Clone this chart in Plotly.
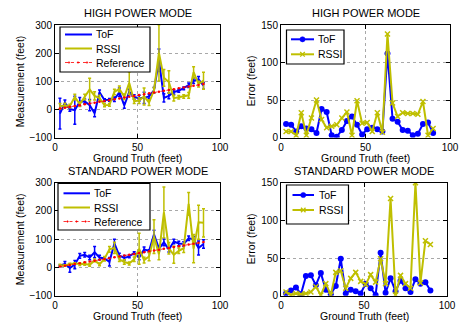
import plotly.graph_objects as go

truth = [3, 6, 9, 12, 15, 18, 21, 24, 27, 30, 33, 36, 39, 42, 45, 48, 51, 54, 57, 60,
         63, 66, 69, 72, 75, 78, 81, 84, 87, 90]

# HIGH POWER MODE - measurements
hp_tof = [-15, 23, 1, -3, 27, 29, 15, -14, 61, 33, 34, 36, 61, 14, 62, 44, 40, 41, 46, 68,
          175, 41, 48, 62, 66, 75, 86, 102, 107, 84]
hp_tof_err = [55, 10, 8, 50, 15, 8, 20, 12, 8, 5, 5, 8, 15, 10, 10, 8, 10, 20, 8, 10,
              40, 15, 10, 8, 5, 5, 8, 10, 10, 12]
hp_rssi = [11, 14, 12, 44, 18, 44, 71, 48, 40, 15, 16, 62, 73, 45, 94, 29, 31, 46, 24, 68,
           201, 112, 97, 40, 43, 46, 50, 132, 90, 102]
hp_rssi_err = [10, 8, 6, 10, 8, 10, 40, 15, 10, 6, 5, 10, 10, 10, 40, 8, 10, 30, 10, 10,
               100, 30, 40, 10, 6, 6, 10, 20, 10, 30]
# HIGH POWER MODE - errors
hp_tof_e = [18, 17, 8, 15, 12, 11, 6, 38, 34, 3, 1, 10, 22, 28, 17, 4, 11, 13, 11, 8,
            112, 25, 21, 10, 9, 3, 5, 18, 20, 6]
hp_rssi_e = [8, 8, 3, 33, 3, 26, 50, 24, 13, 15, 17, 26, 34, 3, 49, 19, 20, 8, 33, 7,
             138, 46, 28, 33, 32, 32, 31, 48, 3, 12]

# STANDARD POWER MODE - measurements
sp_tof = [6, 13, -2, 10, 41, 45, 35, 54, 35, 32, 20, 85, 42, 34, 39, 51, 35, 64, 58, 117,
          67, 89, 63, 92, 85, 83, 103, 100, 69, 83]
sp_tof_err = [3, 8, 15, 15, 8, 8, 8, 20, 8, 5, 15, 15, 8, 8, 5, 5, 8, 8, 5, 15,
              8, 12, 8, 8, 8, 8, 8, 10, 25, 15]
sp_rssi = [8, 7, 12, 14, 12, 13, 9, 25, 11, 31, 64, 69, 29, 19, 14, 29, 66, 26, 39, 109,
           47, 195, 68, 45, 59, 68, 225, 67, 160, 158]
sp_rssi_err = [3, 3, 3, 3, 5, 5, 5, 5, 5, 8, 10, 20, 8, 8, 5, 8, 55, 10, 15, 60,
               20, 90, 20, 30, 10, 15, 40, 50, 60, 50]
# STANDARD POWER MODE - errors
sp_tof_e = [3, 7, 11, 2, 26, 27, 14, 30, 8, 2, 13, 49, 3, 8, 6, 3, 16, 10, 1, 57,
            4, 23, 6, 20, 10, 5, 22, 16, 18, 7]
sp_rssi_e = [5, 1, 3, 2, 3, 5, 12, 1, 16, 1, 31, 33, 10, 23, 31, 19, 15, 28, 18, 49,
             16, 129, 1, 27, 16, 10, 150, 17, 73, 68]

titles = ["HIGH POWER MODE", "STANDARD POWER MODE"]
x_ticks = [0, 50, 100]
meas_ticks = [-100, 0, 100, 200, 300]
err_ticks = [0, 50, 100, 150]

BLUE = "#0000FF"
YEL = "#BFBF00"
RED = "#FF0000"
W, H = 459, 322
FONT = "Liberation Sans, Arial, sans-serif"

fig = go.Figure()

# plot rectangles in pixels: (left, right, top, bottom)
rects = {
    1: (55, 220, 25, 137.5),
    2: (281, 450, 25, 137.5),
    3: (55, 220, 182.7, 295.7),
    4: (281, 447, 182.7, 295.7),
}

def px(x):
    return x / W

def py(y):
    return 1 - y / H

def dom(r):
    l, rr, t, b = r
    return [px(l), px(rr)], [py(b), py(t)]

def meas(idx, tof, tof_err, rssi, rssi_err):
    xa = "x" if idx == 1 else f"x{idx}"
    ya = "y" if idx == 1 else f"y{idx}"
    fig.add_trace(go.Scatter(x=truth, y=tof, mode="lines", name="ToF",
                             line=dict(color=BLUE, width=2),
                             error_y=dict(type="data", array=tof_err, color=BLUE,
                                          thickness=1.5, width=1.5),
                             xaxis=xa, yaxis=ya))
    fig.add_trace(go.Scatter(x=truth, y=rssi, mode="lines", name="RSSI",
                             line=dict(color=YEL, width=2),
                             error_y=dict(type="data", array=rssi_err, color=YEL,
                                          thickness=1.5, width=1.5),
                             xaxis=xa, yaxis=ya))
    fig.add_trace(go.Scatter(x=truth, y=truth, mode="lines+markers", name="Reference",
                             line=dict(color=RED, width=0.8, dash="dot"),
                             marker=dict(color=RED, size=2.5),
                             xaxis=xa, yaxis=ya))

def errp(idx, tof_e, rssi_e):
    xa = f"x{idx}"
    ya = f"y{idx}"
    fig.add_trace(go.Scatter(x=truth, y=tof_e, mode="lines+markers", name="ToF",
                             line=dict(color=BLUE, width=2),
                             marker=dict(color=BLUE, size=6, symbol="circle"),
                             xaxis=xa, yaxis=ya))
    fig.add_trace(go.Scatter(x=truth, y=rssi_e, mode="lines+markers", name="RSSI",
                             line=dict(color=YEL, width=2),
                             marker=dict(color=YEL, size=5, symbol="x-thin",
                                         line=dict(color=YEL, width=1.5)),
                             xaxis=xa, yaxis=ya))

meas(1, hp_tof, hp_tof_err, hp_rssi, hp_rssi_err)
errp(2, hp_tof_e, hp_rssi_e)
meas(3, sp_tof, sp_tof_err, sp_rssi, sp_rssi_err)
errp(4, sp_tof_e, sp_rssi_e)

axis_common = dict(showline=True, linecolor="black", linewidth=1, mirror="allticks",
                   ticks="inside", ticklen=4, tickcolor="black", automargin=False,
                   showgrid=True, gridcolor="#a8a8a8", griddash="dot", gridwidth=1,
                   zeroline=False, tickfont=dict(family=FONT, size=10, color="black"))

layout = dict(width=W, height=H, margin=dict(l=0, r=0, t=0, b=0, pad=0, autoexpand=False),
              paper_bgcolor="white", plot_bgcolor="white", showlegend=False,
              font=dict(family=FONT, size=10, color="black"))

for idx in range(1, 5):
    xd, yd = dom(rects[idx])
    xk = "xaxis" if idx == 1 else f"xaxis{idx}"
    yk = "yaxis" if idx == 1 else f"yaxis{idx}"
    anchor_x = "y" if idx == 1 else f"y{idx}"
    anchor_y = "x" if idx == 1 else f"x{idx}"
    is_meas = idx in (1, 3)
    vals = meas_ticks if is_meas else err_ticks
    layout[xk] = dict(domain=xd, anchor=anchor_x, range=[0, 100], tickvals=x_ticks,
                      **axis_common)
    layout[yk] = dict(domain=yd, anchor=anchor_y,
                      range=[-100, 300] if is_meas else [0, 150],
                      tickvals=vals,
                      ticktext=[("\u2212" + str(-v)) if v < 0 else str(v) for v in vals],
                      **axis_common)

fig.update_layout(**layout)

def ann(text, x, y, size=10.5, angle=0):
    fig.add_annotation(text=text, x=px(x), y=py(y), xref="paper", yref="paper",
                       xanchor="center", yanchor="middle", showarrow=False,
                       textangle=angle, font=dict(family=FONT, size=size, color="black"))

# titles and axis titles
for idx in range(1, 5):
    l, r, t, b = rects[idx]
    ann(titles[0] if idx <= 2 else titles[1], (l + r) / 2, t - 12, size=11)
    ann("Ground Truth (feet)", (l + r) / 2, b + 20.5, size=10.5)
    ylab = "Measurement (feet)" if idx in (1, 3) else "Error (feet)"
    ann(ylab, l - 35 if idx in (1, 3) else l - 30, (t + b) / 2, size=10.5, angle=-90)

# legends drawn as boxes, sample lines and text
def legend_box(x0, y0, x1, y1):
    fig.add_shape(type="rect", xref="paper", yref="paper", x0=px(x0), x1=px(x1),
                  y0=py(y1), y1=py(y0), line=dict(color="black", width=1.2),
                  fillcolor="white", layer="above")

def legend_line(x0, x1, y, color, dash="solid", width=2):
    fig.add_shape(type="line", xref="paper", yref="paper", x0=px(x0), x1=px(x1),
                  y0=py(y), y1=py(y), line=dict(color=color, width=width, dash=dash),
                  layer="above")

def legend_text(text, x, y):
    fig.add_annotation(text=text, x=px(x), y=py(y), xref="paper", yref="paper",
                       xanchor="left", yanchor="middle", showarrow=False,
                       font=dict(family=FONT, size=10.5, color="black"))

def legend_dot(x, y, color, r):
    fig.add_shape(type="circle", xref="paper", yref="paper",
                  x0=px(x - r), x1=px(x + r), y0=py(y + r), y1=py(y - r),
                  line=dict(color=color, width=0.5), fillcolor=color, layer="above")

def legend_x(x, y, color, r):
    fig.add_shape(type="line", xref="paper", yref="paper", x0=px(x - r), x1=px(x + r),
                  y0=py(y - r), y1=py(y + r), line=dict(color=color, width=1.3), layer="above")
    fig.add_shape(type="line", xref="paper", yref="paper", x0=px(x - r), x1=px(x + r),
                  y0=py(y + r), y1=py(y - r), line=dict(color=color, width=1.3), layer="above")

meas_leg = {1: (60, 27, 150, 72, 65, 92, 93.5, [34.5, 48.5, 62.5]),
            3: (58, 183.3, 150, 230, 63.5, 90, 92, [193.3, 207.5, 221.5])}
for idx, (bx0, by0, bx1, by1, lx0, lx1, tx, ys) in meas_leg.items():
    legend_box(bx0, by0, bx1, by1)
    legend_line(lx0, lx1, ys[0], BLUE)
    legend_text("ToF", tx, ys[0])
    legend_line(lx0, lx1, ys[1], YEL)
    legend_text("RSSI", tx, ys[1])
    legend_line(lx0, lx1, ys[2], RED, dash="dot", width=0.8)
    for k in range(3):
        legend_dot(lx0 + 4 + k * 9, ys[2], RED, 0.8)
    legend_text("Reference", tx, ys[2])

err_leg = {2: (286.5, 30, 344, 64, 291, 314, 316, [39.3, 54.3]),
           4: (286.5, 185, 348.5, 224, 292.5, 314, 317, [195, 210])}
for idx, (bx0, by0, bx1, by1, lx0, lx1, tx, ys) in err_leg.items():
    legend_box(bx0, by0, bx1, by1)
    legend_line(lx0, lx1, ys[0], BLUE)
    legend_dot((lx0 + lx1) / 2, ys[0], BLUE, 2.6)
    legend_text("ToF", tx, ys[0])
    legend_line(lx0, lx1, ys[1], YEL)
    legend_x((lx0 + lx1) / 2, ys[1], YEL, 2.3)
    legend_text("RSSI", tx, ys[1])

fig.write_html("out.html", config={"displayModeBar": False},
               post_script="document.body.style.margin='0px';document.body.style.padding='0px';")
